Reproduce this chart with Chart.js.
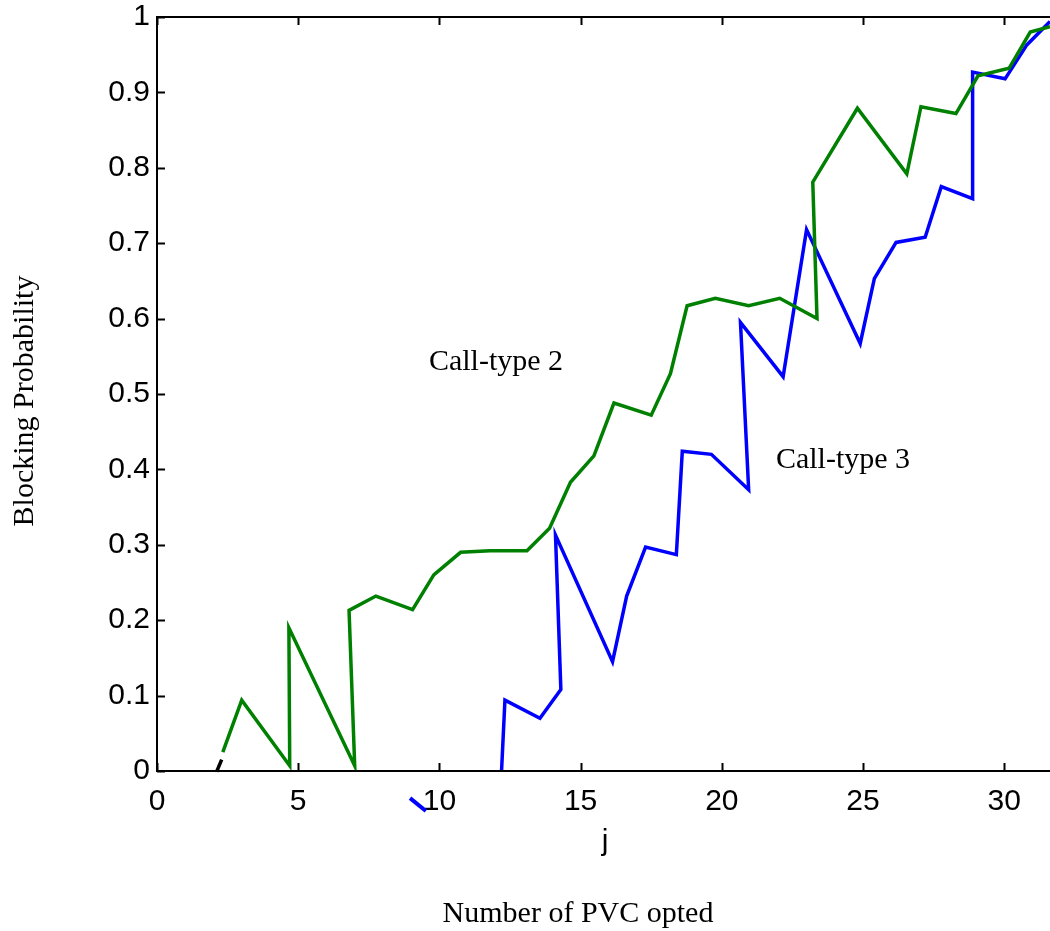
<!DOCTYPE html>
<html>
<head>
<meta charset="utf-8">
<script src="https://cdn.jsdelivr.net/npm/chart.js@4/dist/chart.umd.min.js"></script>
<style>
  html, body { margin: 0; padding: 0; background: #fff; }
  #wrap { width: 1050px; height: 931px; }
</style>
</head>
<body>
<div id="wrap"><canvas id="chart" width="1050" height="931"></canvas></div>
<script>
// x = number of PVC opted (j), y = blocking probability
const TYPE2_X = [2.33, 3.0, 4.7, 4.67, 7.0, 6.8, 7.75, 9.05, 9.8, 10.75, 11.8, 13.1, 13.9, 14.64, 15.47, 16.18,
  17.5, 18.18, 18.77, 19.77, 20.95, 22.05, 23.37, 23.22, 24.8, 26.55, 27.05, 28.29, 29.07, 30.17, 30.92, 31.62];
const TYPE2_Y = [0.025, 0.094, 0.007, 0.19, 0.007, 0.213, 0.232, 0.214, 0.26, 0.29, 0.292, 0.292, 0.322, 0.383, 0.418, 0.488,
  0.472, 0.527, 0.617, 0.627, 0.617, 0.627, 0.60, 0.781, 0.879, 0.792, 0.881, 0.872, 0.922, 0.932, 0.98, 0.987];

const TYPE3_X = [12.2, 12.32, 13.56, 14.3, 14.11, 16.13, 16.63, 17.3, 18.39, 18.6, 19.63, 20.95, 20.66, 22.17,
  23.0, 24.9, 25.4, 26.17, 27.2, 27.77, 28.88, 28.88, 30.03, 30.8, 31.62];
const TYPE3_Y = [0, 0.094, 0.07, 0.108, 0.313, 0.145, 0.232, 0.297, 0.287, 0.424, 0.42, 0.373, 0.595, 0.523,
  0.718, 0.567, 0.653, 0.701, 0.708, 0.775, 0.759, 0.927, 0.918, 0.963, 0.994];

// stray bits of the original figure
const BLACK_X = [2.11, 2.29];
const BLACK_Y = [-0.001, 0.015];
const STRAY3_X = [8.96, 9.52];
const STRAY3_Y = [-0.036, -0.053];

const X_MIN = 0, X_MAX = 31.62;
const Y_MIN = 0, Y_MAX = 1;

const SANS = "'Liberation Sans', Arial, sans-serif";
const SERIF = "'Liberation Serif', 'Times New Roman', serif";

const pts = (xs, ys) => xs.map((x, i) => ({ x, y: ys[i] }));

const frame = {
  id: "frame",
  afterDraw(chart) {
    const { ctx, chartArea: a, scales } = chart;
    ctx.save();
    ctx.strokeStyle = "#000";
    ctx.lineWidth = 2;
    ctx.beginPath();
    ctx.moveTo(chart.width, a.top);
    ctx.lineTo(a.left, a.top);
    ctx.lineTo(a.left, a.bottom);
    ctx.lineTo(chart.width, a.bottom);
    ctx.stroke();

    // inward ticks
    const len = 8;
    ctx.beginPath();
    scales.x.ticks.forEach((t) => {
      const px = Math.round(scales.x.getPixelForValue(t.value)) + 0.5;
      ctx.moveTo(px, a.bottom); ctx.lineTo(px, a.bottom - len);
      ctx.moveTo(px, a.top); ctx.lineTo(px, a.top + len);
    });
    scales.y.ticks.forEach((t) => {
      const py = Math.round(scales.y.getPixelForValue(t.value)) + 0.5;
      ctx.moveTo(a.left, py); ctx.lineTo(a.left + len, py);
    });
    ctx.stroke();

    ctx.fillStyle = "#000";
    ctx.textAlign = "center";
    ctx.textBaseline = "alphabetic";
    ctx.font = "30px " + SERIF;
    ctx.fillText("Call-type 2", 496, 370);
    ctx.fillText("Call-type 3", 843, 468);
    ctx.fillText("Number of PVC opted", 578, 922);

    ctx.font = "30px " + SANS;
    ctx.fillText("j", 605, 850);

    ctx.translate(25, 401);
    ctx.rotate(-Math.PI / 2);
    ctx.font = "30px " + SERIF;
    ctx.textBaseline = "middle";
    ctx.fillText("Blocking Probability", 0, 0);
    ctx.restore();
  },
};

new Chart(document.getElementById("chart").getContext("2d"), {
  type: "line",
  data: {
    datasets: [
      {
        label: "Call-type 2",
        data: pts(TYPE2_X, TYPE2_Y),
        borderColor: "#008000",
        borderWidth: 3.5,
        pointRadius: 0,
        tension: 0,
      },
      {
        label: "Call-type 3",
        data: pts(TYPE3_X, TYPE3_Y),
        borderColor: "#0000ff",
        borderWidth: 3.5,
        pointRadius: 0,
        tension: 0,
      },
      {
        label: "stray",
        data: pts(BLACK_X, BLACK_Y),
        borderColor: "#000",
        borderWidth: 3.5,
        pointRadius: 0,
        clip: false,
      },
      {
        label: "stray 3",
        data: pts(STRAY3_X, STRAY3_Y),
        borderColor: "#0000ff",
        borderWidth: 4,
        pointRadius: 0,
        clip: false,
      },
    ],
  },
  options: {
    responsive: false,
    animation: false,
    layout: { padding: { top: 17, left: 0, right: 0, bottom: 0 } },
    scales: {
      x: {
        type: "linear",
        min: X_MIN,
        max: X_MAX,
        afterFit: (s) => { s.height = 160; s.paddingLeft = 0; s.paddingRight = 0; },
        grid: { display: false, drawTicks: false },
        border: { display: false },
        ticks: {
          stepSize: 5,
          includeBounds: false,
          maxRotation: 0,
          padding: 13,
          color: "#000",
          font: { family: SANS, size: 30 },
          callback: (v) => String(v),
        },
      },
      y: {
        min: Y_MIN,
        max: Y_MAX,
        afterFit: (s) => { s.width = 157; s.paddingTop = 0; s.paddingBottom = 0; },
        grid: { display: false, drawTicks: false },
        border: { display: false },
        ticks: {
          stepSize: 0.1,
          padding: 7,
          color: "#000",
          font: { family: SANS, size: 30 },
          callback: (v) => String(+v.toFixed(1)),
        },
      },
    },
    plugins: {
      legend: { display: false },
      tooltip: { enabled: false },
    },
  },
  plugins: [frame],
});
</script>
</body>
</html>
